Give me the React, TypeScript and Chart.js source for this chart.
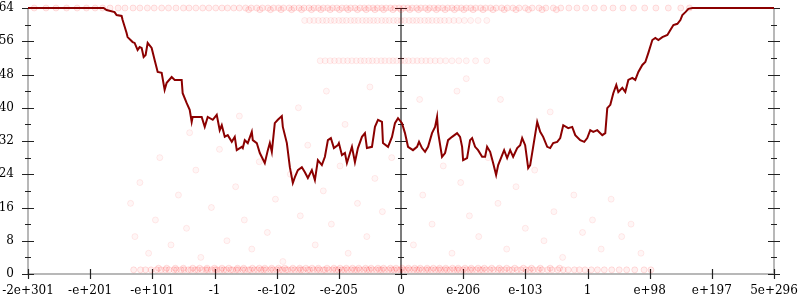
import React, { useEffect, useRef } from "react";
import { Chart, registerables } from "chart.js";

Chart.register(...registerables);

// x positions are in tick units (-6..6), each tick labelled by X_TICK_LABELS
const X_TICK_LABELS = ["-2e+301", "-e+201", "-e+101", "-1", "-e-102", "-e-205", "0", "e-206", "e-103", "1", "e+98", "e+197", "5e+296"];
const Y_MAJOR_TICKS = [0, 8, 16, 24, 32, 40, 48, 56, 64];
const Y_MINOR_TICKS = [4, 12, 20, 28, 36, 44, 52, 60];

const LINE_X = [
  -6, -4.784, -4.736, -4.607, -4.575, -4.494, -4.478, -4.414, -4.398, -4.317, -4.285, -4.237, -4.204, -4.172, -4.14, -4.108,
  -4.075, -4.011, -3.963, -3.914, -3.85, -3.802, -3.769, -3.689, -3.64, -3.528, -3.512, -3.447, -3.399, -3.367, -3.351, -3.27,
  -3.206, -3.157, -3.109, -3.028, -2.964, -2.916, -2.883, -2.835, -2.787, -2.722, -2.674, -2.642, -2.561, -2.545, -2.513, -2.465,
  -2.4, -2.384, -2.32, -2.271, -2.191, -2.142, -2.11, -2.078, -2.03, -1.981, -1.917, -1.901, -1.836, -1.788, -1.74, -1.707,
  -1.659, -1.595, -1.546, -1.498, -1.434, -1.385, -1.337, -1.273, -1.224, -1.176, -1.128, -1.079, -1.015, -0.999, -0.95, -0.902,
  -0.87, -0.789, -0.741, -0.693, -0.628, -0.58, -0.548, -0.467, -0.419, -0.37, -0.306, -0.29, -0.209, -0.145, -0.097, -0.048,
  0.016, 0.064, 0.113, 0.193, 0.258, 0.29, 0.338, 0.387, 0.435, 0.499, 0.548, 0.58, 0.596, 0.66, 0.709, 0.757,
  0.822, 0.902, 0.95, 0.983, 0.999, 1.063, 1.111, 1.144, 1.192, 1.24, 1.305, 1.353, 1.385, 1.434, 1.482, 1.53,
  1.563, 1.627, 1.659, 1.707, 1.756, 1.804, 1.869, 1.917, 1.949, 1.997, 2.046, 2.078, 2.126, 2.191, 2.239, 2.287,
  2.352, 2.4, 2.448, 2.513, 2.561, 2.61, 2.69, 2.754, 2.803, 2.883, 2.948, 2.996, 3.044, 3.093, 3.157, 3.238,
  3.286, 3.318, 3.367, 3.415, 3.463, 3.496, 3.56, 3.608, 3.657, 3.721, 3.769, 3.818, 3.882, 3.93, 3.979, 4.043,
  4.091, 4.14, 4.204, 4.285, 4.333, 4.382, 4.446, 4.494, 4.526, 4.575, 4.623, 4.688, 6,
];
const LINE_Y = [
  64, 64, 63.5, 63.0, 62.3, 62.1, 61.1, 58.0, 57.0, 55.8, 55.6, 53.9, 54.6, 54.4, 52.2, 52.7,
  55.6, 54.4, 51.5, 48.6, 48.4, 44.3, 46.0, 47.4, 46.7, 46.7, 43.5, 41.1, 39.5, 36.6, 37.8, 37.8,
  37.8, 35.4, 37.8, 37.1, 38.3, 34.6, 35.8, 33.0, 33.4, 31.8, 33.0, 29.8, 30.6, 30.3, 32.2, 31.5,
  34.2, 32.2, 31.5, 29.1, 26.7, 29.8, 31.5, 29.4, 36.3, 37.1, 38.0, 35.4, 31.5, 25.7, 21.9, 23.3,
  25.0, 25.7, 24.5, 23.1, 25.0, 22.6, 27.4, 26.2, 28.2, 32.2, 32.7, 30.3, 31.0, 31.5, 28.6, 29.1,
  26.7, 30.6, 26.9, 30.3, 33.0, 33.9, 30.3, 30.6, 35.4, 37.1, 36.6, 31.5, 30.6, 33.0, 36.3, 37.5,
  36.3, 33.9, 30.6, 29.8, 30.6, 31.8, 30.3, 29.4, 30.6, 33.9, 35.4, 37.8, 34.2, 28.2, 29.1, 32.2,
  33.0, 33.9, 33.0, 30.6, 27.4, 27.9, 32.2, 32.7, 30.6, 29.8, 28.2, 28.2, 30.6, 29.4, 26.7, 23.8,
  26.2, 28.6, 29.8, 27.9, 29.8, 28.2, 30.3, 31.0, 32.7, 31.0, 25.5, 26.2, 30.6, 36.6, 34.2, 33.0,
  30.6, 30.3, 31.5, 31.8, 32.7, 35.8, 35.1, 35.4, 33.4, 32.2, 31.8, 32.7, 34.6, 34.2, 34.6, 33.4,
  33.9, 39.9, 40.7, 43.5, 45.5, 43.8, 44.8, 43.8, 46.7, 47.2, 46.7, 48.6, 50.3, 51.0, 53.2, 56.3,
  56.8, 56.3, 57.0, 57.5, 58.7, 59.9, 60.2, 61.1, 62.3, 63.0, 63.8, 64, 64,
];

// faint sample points
const BAND_BOTTOM_Y = 1;
const BAND_BOTTOM_X = [
  -4.3, -4.19, -4.11, -4.02, -3.93, -3.86, -3.79, -3.73, -3.65, -3.61, -3.54, -3.49, -3.42, -3.38, -3.31, -3.27, -3.2, -3.14,
  -3.11, -3.05, -2.99, -2.96, -2.9, -2.85, -2.81, -2.74, -2.71, -2.65, -2.62, -2.55, -2.51, -2.45, -2.42, -2.36, -2.31, -2.25,
  -2.21, -2.17, -2.1, -2.06, -2.0, -1.95, -1.91, -1.85, -1.82, -1.76, -1.71, -1.65, -1.61, -1.57, -1.5, -1.47, -1.41, -1.35,
  -1.31, -1.25, -1.22, -1.16, -1.1, -1.05, -1.01, -0.95, -0.91, -0.86, -0.8, -0.75, -0.71, -0.66, -0.6, -0.55, -0.51, -0.46,
  -0.4, -0.35, -0.31, -0.26, -0.2, -0.15, -0.11, -0.06, -0.01, 0.04, 0.09, 0.14, 0.2, 0.25, 0.29, 0.34, 0.4, 0.44, 0.49, 0.55,
  0.6, 0.64, 0.7, 0.74, 0.79, 0.85, 0.9, 0.94, 1.0, 1.05, 1.11, 1.15, 1.21, 1.27, 1.31, 1.37, 1.43, 1.49, 1.56, 1.61, 1.67,
  1.74, 1.79, 1.87, 1.93, 2.01, 2.07, 2.13, 2.21, 2.27, 2.36, 2.43, 2.52, 2.61, 2.69, 2.79, 2.87, 2.96, 3.06, 3.16, 3.27,
  3.39, 3.51, 3.63, 3.76, 3.91, 4.02,
];
const BAND_BOTTOM_Y2 = 1.4;
const BAND_BOTTOM_X2 = [
  -3.9, -3.77, -3.63, -3.5, -3.35, -3.24, -3.12, -3.0, -2.88, -2.77, -2.63, -2.53, -2.39, -2.28, -2.19, -2.08, -1.97, -1.87,
  -1.74, -1.63, -1.53, -1.43, -1.33, -1.19, -1.08, -0.98, -0.88, -0.78, -0.68, -0.57, -0.48, -0.37, -0.28, -0.17, -0.08, 0.02,
  0.12, 0.22, 0.31, 0.42, 0.52, 0.62, 0.72, 0.83, 0.92, 1.03, 1.13, 1.24, 1.34, 1.46, 1.58, 1.7, 1.83, 1.97, 2.1, 2.24, 2.4, 2.55,
];
const BAND_TOP_Y = 64;
const BAND_TOP_X = [
  -5.9, -5.71, -5.55, -5.38, -5.21, -5.06, -4.92, -4.8, -4.68, -4.55, -4.44, -4.31, -4.2, -4.08, -3.97, -3.85, -3.74, -3.62,
  -3.5, -3.41, -3.3, -3.19, -3.09, -2.98, -2.88, -2.79, -2.69, -2.6, -2.5, -2.41, -2.32, -2.23, -2.14, -2.05, -1.97, -1.89,
  -1.8, -1.72, -1.64, -1.56, -1.48, -1.4, -1.33, -1.25, -1.18, -1.1, -1.03, -0.95, -0.88, -0.81, -0.74, -0.66, -0.59, -0.52,
  -0.45, -0.38, -0.31, -0.24, -0.17, -0.1, -0.03, 0.04, 0.11, 0.18, 0.25, 0.32, 0.39, 0.46, 0.53, 0.6, 0.67, 0.75, 0.82, 0.9,
  0.97, 1.05, 1.12, 1.2, 1.28, 1.36, 1.44, 1.53, 1.62, 1.71, 1.8, 1.9, 2.0, 2.11, 2.22, 2.33, 2.45, 2.57, 2.7, 2.83, 2.97,
  3.11, 3.26, 3.41, 3.57, 3.74, 3.92, 4.1, 4.3, 4.5, 4.64,
];
const BAND_TOP_Y2 = 63.6;
const BAND_TOP_X2 = [
  -2.45, -2.27, -2.1, -1.93, -1.76, -1.6, -1.44, -1.29, -1.14, -0.99, -0.85, -0.7, -0.56, -0.42, -0.28, -0.13, 0.0, 0.14, 0.28,
  0.43, 0.57, 0.71, 0.86, 1.01, 1.16, 1.32, 1.48, 1.66, 1.85, 2.05, 2.27, 2.5,
];
const BAND_61_Y = 61;
const BAND_61_X = [
  -1.55, -1.47, -1.4, -1.33, -1.26, -1.2, -1.13, -1.07, -1.0, -0.94, -0.88, -0.81, -0.75, -0.69, -0.62, -0.56, -0.5, -0.44,
  -0.38, -0.31, -0.25, -0.19, -0.12, -0.06, 0.0, 0.06, 0.13, 0.19, 0.25, 0.31, 0.38, 0.44, 0.5, 0.57, 0.63, 0.7, 0.77, 0.85,
  0.93, 1.02, 1.12, 1.24, 1.38,
];
const BAND_51_Y = 51.3;
const BAND_51_X = [
  -1.3, -1.22, -1.14, -1.07, -1.0, -0.93, -0.86, -0.79, -0.72, -0.65, -0.59, -0.52, -0.46, -0.39, -0.32, -0.26, -0.19, -0.13,
  -0.07, 0.0, 0.06, 0.12, 0.19, 0.26, 0.33, 0.4, 0.47, 0.55, 0.63, 0.72, 0.82, 0.93, 1.05, 1.2, 1.38,
];
const LOOSE_X = [
  -4.35, -4.28, -4.2, -4.06, -3.95, -3.88, -3.7, -3.58, -3.45, -3.3, -3.22, -3.05, -2.92, -2.8, -2.66, -2.52, -2.4, -2.28,
  -2.15, -2.02, -1.9, -1.78, -1.62, -1.5, -1.38, -1.25, -1.12, -0.98, -0.85, -0.7, -0.55, -0.42, -0.3, -0.15, -0.9, -1.65,
  -2.6, -3.4, 0.2, 0.35, 0.5, 0.68, 0.82, 0.96, 1.1, 1.25, 1.4, 1.56, 1.7, 1.85, 2.0, 2.15, 2.3, 2.46, 2.6, 2.78, 2.92,
  3.08, 3.22, 3.38, 3.55, 3.7, 3.86, 0.9, 1.6, 2.4, 1.05, 0.3, -0.5, -1.2,
];
const LOOSE_Y = [
  17, 9, 22, 5, 13, 28, 7, 19, 11, 25, 4, 16, 30, 8, 21, 13, 6, 27, 10, 18, 3, 24, 14, 31, 7, 20, 12, 26, 5, 17, 9, 23, 15,
  28, 36, 40, 38, 34, 7, 19, 12, 26, 5, 22, 14, 9, 28, 17, 6, 21, 11, 25, 8, 15, 4, 19, 10, 13, 6, 18, 9, 12, 5, 44, 42, 39,
  47, 42, 45, 44,
];

const toPoints = (xs: number[], ys: number[]) => xs.map((x, i) => ({ x, y: ys[i] }));
const bandPoints = (xs: number[], y: number) => xs.map((x) => ({ x, y }));

const axesPlugin = {
  id: "customAxes",
  beforeDatasetsDraw(chart: any) {
    const { ctx, chartArea, scales } = chart;
    const { left, right, top, bottom } = chartArea;
    const xs = scales.x;
    const ys = scales.y;
    const x0 = xs.getPixelForValue(0);
    ctx.save();
    ctx.lineCap = "butt";
    ctx.strokeStyle = "#b8b8b8";
    ctx.lineWidth = 2;
    ctx.beginPath();
    ctx.moveTo(left, top);
    ctx.lineTo(left, bottom);
    ctx.moveTo(right, top);
    ctx.lineTo(right, bottom);
    ctx.moveTo(left, bottom);
    ctx.lineTo(right, bottom);
    ctx.stroke();
    ctx.strokeStyle = "#505050";
    ctx.lineWidth = 1.5;
    ctx.beginPath();
    ctx.moveTo(x0, top);
    ctx.lineTo(x0, bottom);
    ctx.stroke();
    ctx.strokeStyle = "#222";
    ctx.lineWidth = 1.2;
    ctx.beginPath();
    for (const ax of [left, x0, right]) {
      for (const v of Y_MAJOR_TICKS) {
        const py = Math.round(ys.getPixelForValue(v)) + 0.5;
        ctx.moveTo(ax - 6, py);
        ctx.lineTo(ax + 6, py);
      }
      for (const v of Y_MINOR_TICKS) {
        const py = Math.round(ys.getPixelForValue(v)) + 0.5;
        ctx.moveTo(ax - 3, py);
        ctx.lineTo(ax + 3, py);
      }
    }
    X_TICK_LABELS.forEach((_, i) => {
      const px = Math.round(xs.getPixelForValue(i - 6)) + 0.5;
      ctx.moveTo(px, bottom - 5);
      ctx.lineTo(px, bottom + 5);
    });
    ctx.stroke();
    ctx.restore();
  },
};

const clearPadding = (s: any) => {
  s.paddingTop = 0;
  s.paddingBottom = 0;
  s.paddingLeft = 0;
  s.paddingRight = 0;
};

export default function App() {
  const ref = useRef<HTMLCanvasElement | null>(null);
  useEffect(() => {
    if (!ref.current) return;
    const faint = {
      pointRadius: 3,
      pointBackgroundColor: "rgba(255,0,0,0.035)",
      pointBorderColor: "rgba(255,0,0,0.08)",
      pointBorderWidth: 1,
      showLine: false,
      clip: false,
    };
    const band = {
      ...faint,
      pointBackgroundColor: "rgba(255,0,0,0.06)",
      pointBorderColor: "rgba(255,0,0,0.12)",
    };
    const chart = new Chart(ref.current, {
      type: "scatter",
      data: {
        datasets: [
          {
            type: "line",
            data: toPoints(LINE_X, LINE_Y),
            borderColor: "#8b0000",
            borderWidth: 2,
            pointRadius: 0,
            showLine: true,
            tension: 0,
            clip: false,
          } as any,
          { data: bandPoints(BAND_BOTTOM_X, BAND_BOTTOM_Y), ...band },
          { data: bandPoints(BAND_BOTTOM_X2, BAND_BOTTOM_Y2), ...band },
          { data: bandPoints(BAND_TOP_X, BAND_TOP_Y), ...band },
          { data: bandPoints(BAND_TOP_X2, BAND_TOP_Y2), ...band },
          { data: bandPoints(BAND_61_X, BAND_61_Y), ...faint },
          { data: bandPoints(BAND_51_X, BAND_51_Y), ...faint },
          { data: toPoints(LOOSE_X, LOOSE_Y), ...faint },
        ],
      },
      options: {
        animation: false,
        responsive: false,
        layout: { autoPadding: false, padding: { top: 8, right: 26, left: 0, bottom: 0 } },
        plugins: { legend: { display: false }, tooltip: { enabled: false } },
        scales: {
          x: {
            type: "linear",
            min: -6,
            max: 6,
            grid: { display: false },
            border: { display: false },
            afterFit: (s: any) => {
              s.height = 26;
              clearPadding(s);
            },
            ticks: {
              stepSize: 1,
              autoSkip: false,
              maxRotation: 0,
              padding: 2,
              color: "#000",
              font: { family: "DejaVu Serif", size: 12 },
              callback: (v: any) => X_TICK_LABELS[Math.round(Number(v)) + 6] ?? "",
            },
          },
          y: {
            type: "linear",
            min: 0,
            max: 64,
            grid: { display: false },
            border: { display: false },
            afterFit: (s: any) => {
              s.width = 28;
              clearPadding(s);
            },
            ticks: {
              stepSize: 8,
              padding: 6,
              color: "#000",
              font: { family: "DejaVu Serif", size: 12 },
            },
          },
        },
      },
      plugins: [axesPlugin],
    });
    return () => chart.destroy();
  }, []);
  return (
    <div style={{ position: "absolute", left: 0, top: 0, width: 800, height: 300, background: "#fff" }}>
      <canvas ref={ref} width={800} height={300} />
    </div>
  );
}
